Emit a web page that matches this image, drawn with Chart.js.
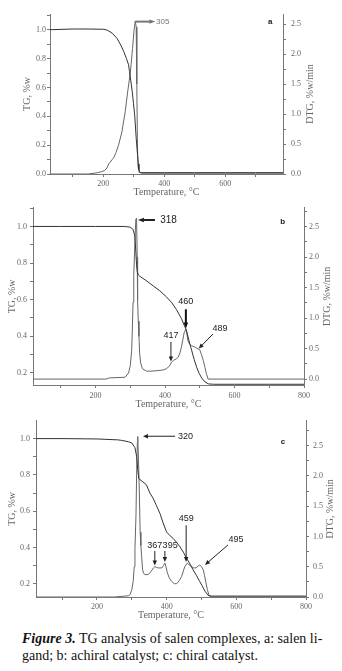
<!DOCTYPE html>
<html>
<head>
<meta charset="utf-8">
<script src="https://cdn.jsdelivr.net/npm/chart.js@4.4.1/dist/chart.umd.min.js"></script>
<style>
    html, body { margin: 0; padding: 0; background: #fff; }
    body { width: 342px; height: 671px; position: relative; overflow: hidden; }
    canvas { position: absolute; left: 0; }
    #caption {
        position: absolute; left: 22px; top: 630px;
        font: 14px "Liberation Serif", serif; line-height: 17px;
        color: #111; white-space: nowrap;
    }
    #caption b { font-style: italic; }
</style>
</head>
<body>
<canvas id="chartA" width="342" height="200" style="top:0px"></canvas>
<canvas id="chartB" width="342" height="212" style="top:200px"></canvas>
<canvas id="chartC" width="342" height="210" style="top:412px"></canvas>
<div id="caption"><b>Figure 3.</b> TG analysis of salen complexes, a: salen li-<br>gand; b: achiral catalyst; c: chiral catalyst.</div>

<script>
// ---- a: salen ligand ----
const tempA_tg = [25, 100, 150, 200, 212, 230, 245, 257, 267, 276, 283, 286, 290, 295, 299, 303, 308, 312.5, 315, 317, 320, 325, 400, 500, 600, 700, 790];
const tgA      = [1.0, 1.005, 1.005, 1.003, 0.998, 0.975, 0.94, 0.895, 0.85, 0.80, 0.757, 0.71, 0.65, 0.571, 0.49, 0.41, 0.248, 0.13, 0.07, 0.03, 0.012, 0.006, 0.006, 0.006, 0.006, 0.006, 0.006];
const tempA_dtg = [25, 150, 180, 195, 205, 212, 218, 223, 229, 235, 242, 250, 261, 272, 280, 289, 296, 301, 305, 308, 310, 312, 314, 318, 400, 500, 600, 700, 790];
const dtgA      = [0, 0, 0.02, 0.04, 0.06, 0.1, 0.17, 0.2, 0.24, 0.28, 0.36, 0.48, 0.70, 1.04, 1.37, 1.70, 2.09, 2.40, 2.55, 2.45, 1.5, 0.5, 0.12, 0.025, 0.025, 0.025, 0.025, 0.025, 0.025];

// ---- b: achiral catalyst ----
const tempB_tg = [20, 100, 200, 284, 300, 308, 313, 316, 318, 320, 323, 327, 345, 366, 385, 404, 420, 433, 447, 457, 462, 469, 477, 484, 491, 498, 506, 515, 525, 540, 600, 700, 800];
const tgB      = [1.0, 1.0, 1.0, 1.0, 0.996, 0.984, 0.948, 0.86, 0.79, 0.755, 0.735, 0.728, 0.705, 0.675, 0.648, 0.615, 0.582, 0.545, 0.497, 0.452, 0.43, 0.375, 0.32, 0.272, 0.23, 0.197, 0.17, 0.15, 0.139, 0.137, 0.137, 0.137, 0.137];
const tempB_dtg = [20, 230, 240, 285, 295, 300, 304, 306, 308, 310, 313, 316, 318, 320, 321, 323, 325, 327, 330, 335, 347, 360, 380, 395, 404, 412, 419, 425, 432, 438, 443, 447, 451, 455, 460, 463, 466, 470, 476, 484, 491, 500, 505, 510, 515, 519, 524, 600, 800];
const dtgB      = [0, 0, 0.02, 0.03, 0.1, 0.22, 0.47, 0.84, 1.26, 1.7, 2.2, 2.62, 2.64, 2.0, 1.3, 0.95, 0.7, 0.42, 0.26, 0.17, 0.13, 0.13, 0.14, 0.15, 0.17, 0.21, 0.28, 0.31, 0.33, 0.36, 0.43, 0.52, 0.64, 0.76, 0.82, 0.74, 0.63, 0.58, 0.55, 0.53, 0.51, 0.48, 0.40, 0.31, 0.19, 0.09, 0.0, 0, 0];

// ---- c: chiral catalyst ----
const tempC_tg = [25, 100, 200, 260, 271, 290, 300, 309, 314, 317, 320, 323, 330, 342, 352, 361, 371, 381, 390, 400, 410, 419, 428, 438, 448, 457, 467, 476, 486, 495, 502, 510, 519, 528, 600, 700, 800];
const tgC      = [1.0, 1.0, 0.998, 0.993, 0.99, 0.983, 0.976, 0.95, 0.90, 0.83, 0.78, 0.775, 0.765, 0.745, 0.70, 0.672, 0.63, 0.587, 0.535, 0.485, 0.465, 0.45, 0.43, 0.405, 0.375, 0.342, 0.31, 0.277, 0.245, 0.213, 0.19, 0.16, 0.137, 0.133, 0.133, 0.133, 0.133];
const tempC_dtg = [25, 250, 290, 295, 300, 304, 307, 309, 312, 314, 316, 317, 319, 321, 324, 326, 328, 331, 334, 338, 347, 355, 362, 366, 371, 376, 386, 391, 395, 398, 402, 408, 414, 422, 429, 436, 443, 448, 452, 459, 465, 472, 478, 484, 490, 495, 500, 505, 509, 513, 517, 522, 530, 600, 800];
const dtgC      = [0, 0, 0.02, 0.04, 0.12, 0.26, 0.5, 0.8, 1.35, 2.1, 2.55, 2.65, 2.3, 1.89, 1.07, 0.85, 0.69, 0.45, 0.39, 0.37, 0.37, 0.42, 0.48, 0.50, 0.49, 0.48, 0.48, 0.52, 0.56, 0.50, 0.40, 0.31, 0.26, 0.22, 0.22, 0.27, 0.34, 0.43, 0.50, 0.56, 0.53, 0.50, 0.48, 0.48, 0.51, 0.53, 0.50, 0.45, 0.35, 0.23, 0.12, 0.02, 0, 0, 0];

// peak labels: arrow from -> tip, text at (temperature, DTG value)
const notesA = [
    { text: '305', from: [305, 2.54], tip: [371, 2.54], at: [373, 2.54], align: 'left', width: 2, color: '#777', size: 8 }
];
const notesB = [
    { text: '318', from: [371, 2.61], tip: [322, 2.61], at: [386, 2.61], align: 'left', width: 2, color: '#222', size: 10 },
    { text: '460', from: [460, 1.145], tip: [460, 0.83], at: [460, 1.27], width: 2, color: '#111', size: 9 },
    { text: '417', from: [417, 0.61], tip: [417, 0.29], at: [417, 0.72], width: 1, color: '#222', size: 9 },
    { text: '489', from: [538, 0.74], tip: [497, 0.50], at: [558, 0.83], width: 1, color: '#222', size: 9 }
];
const notesC = [
    { text: '320', from: [424, 2.655], tip: [332, 2.655], at: [454, 2.655], width: 1, color: '#222', size: 9 },
    { text: '459', from: [456, 1.185], tip: [456, 0.58], at: [456, 1.29], width: 1, color: '#222', size: 9 },
    { text: '367', from: [366, 0.76], tip: [366, 0.52], at: [366, 0.85], width: 1, color: '#222', size: 9 },
    { text: '395', from: [395, 0.76], tip: [395, 0.58], at: [410, 0.85], width: 1, color: '#222', size: 9 },
    { text: '495', from: [576, 0.86], tip: [510, 0.53], at: [599, 0.95], width: 1, color: '#222', size: 9 }
];

const AXIS = '#777';
const TEXT = '#666';
const SERIF = "'Liberation Serif', 'Times New Roman', serif";
const SANS = "'Liberation Sans', Arial, sans-serif";

function toPoints(xs, ys) {
    return xs.map((x, i) => ({ x: x, y: ys[i] }));
}

function drawArrow(ctx, x1, y1, x2, y2, w, color) {
    const ang = Math.atan2(y2 - y1, x2 - x1);
    const len = 4 + w;
    ctx.strokeStyle = color;
    ctx.fillStyle = color;
    ctx.lineWidth = w;
    ctx.beginPath();
    ctx.moveTo(x1, y1);
    ctx.lineTo(x2 - Math.cos(ang) * len * 0.7, y2 - Math.sin(ang) * len * 0.7);
    ctx.stroke();
    ctx.beginPath();
    ctx.moveTo(x2, y2);
    ctx.lineTo(x2 - len * Math.cos(ang) + 2.2 * Math.sin(ang), y2 - len * Math.sin(ang) - 2.2 * Math.cos(ang));
    ctx.lineTo(x2 - len * Math.cos(ang) - 2.2 * Math.sin(ang), y2 - len * Math.sin(ang) + 2.2 * Math.cos(ang));
    ctx.closePath();
    ctx.fill();
}

// arrows, peak numbers, panel letter and the right axis title (reads upward)
function notesPlugin(notes, letter, titleOffset) {
    return {
        id: 'notes',
        afterDraw(chart) {
            const ctx = chart.ctx;
            const xs = chart.scales.x, ys = chart.scales.y2;
            const px = t => xs.getPixelForValue(t);
            const py = v => ys.getPixelForValue(v);
            ctx.save();
            notes.forEach(n => {
                drawArrow(ctx, px(n.from[0]), py(n.from[1]), px(n.tip[0]), py(n.tip[1]), n.width, n.color);
                ctx.fillStyle = n.color;
                ctx.font = n.size + 'px ' + SANS;
                ctx.textAlign = n.align || 'center';
                ctx.textBaseline = 'middle';
                ctx.fillText(n.text, px(n.at[0]), py(n.at[1]));
            });
            ctx.fillStyle = '#222';
            ctx.font = 'bold 8px ' + SANS;
            ctx.textAlign = 'center';
            ctx.fillText(letter.text, px(letter.at[0]), py(letter.at[1]));

            const area = chart.chartArea;
            ctx.translate(ys.right - titleOffset, (area.top + area.bottom) / 2);
            ctx.rotate(-Math.PI / 2);
            ctx.fillStyle = TEXT;
            ctx.font = '10px ' + SERIF;
            ctx.fillText('DTG, %w/min', 0, 0);
            ctx.restore();
        }
    };
}

function makeChart(id, cfg) {
    const ctx = document.getElementById(id).getContext('2d');
    const tickFont = { family: SERIF, size: 8 };
    const grid = { display: true, drawOnChartArea: false, drawTicks: true, tickLength: 3, color: AXIS };
    return new Chart(ctx, {
        type: 'line',
        data: {
            datasets: [
                { label: 'TG', data: toPoints(cfg.tgT, cfg.tg), yAxisID: 'y', borderColor: '#333', borderWidth: 1 },
                { label: 'DTG', data: toPoints(cfg.dtgT, cfg.dtg), yAxisID: 'y2', borderColor: '#666', borderWidth: 1 }
            ]
        },
        options: {
            responsive: false,
            animation: false,
            events: [],
            layout: { padding: { top: cfg.top, left: 0, right: 0, bottom: 0 } },
            elements: { point: { radius: 0 }, line: { tension: 0 } },
            plugins: { legend: { display: false }, tooltip: { enabled: false } },
            scales: {
                x: {
                    type: 'linear', min: cfg.xMin, max: cfg.xMax,
                    afterFit: s => { s.height = cfg.xH; },
                    border: { display: true, color: AXIS },
                    grid: grid,
                    ticks: {
                        stepSize: 100, includeBounds: false, autoSkip: false, maxRotation: 0,
                        padding: cfg.xPad, color: TEXT, font: tickFont,
                        callback: v => (v % 200 === 0 ? String(v) : '')
                    },
                    title: {
                        display: true, text: 'Temperature, \u00B0C', color: TEXT,
                        font: { family: SERIF, size: 10 }, padding: { top: 0, bottom: cfg.xTitlePad }
                    }
                },
                y: {
                    position: 'left', min: cfg.yMin, max: cfg.yMax,
                    afterFit: s => { s.width = cfg.leftW; },
                    border: { display: true, color: AXIS },
                    grid: grid,
                    ticks: {
                        stepSize: 0.1, includeBounds: false, autoSkip: false,
                        padding: cfg.leftPad, color: TEXT, font: tickFont,
                        callback: v => (Math.round(v * 10) % 2 === 0 ? v.toFixed(1) : '')
                    },
                    title: {
                        display: true, text: 'TG, %w', color: TEXT,
                        font: { family: SERIF, size: 10 }, padding: { top: cfg.leftTitlePad, bottom: 0 }
                    }
                },
                y2: {
                    position: 'right', min: cfg.y2Min, max: cfg.y2Max,
                    afterFit: s => { s.width = cfg.rightW; },
                    border: { display: true, color: AXIS },
                    grid: grid,
                    ticks: {
                        stepSize: 0.25, includeBounds: false, autoSkip: false,
                        padding: cfg.rightPad, color: TEXT, font: tickFont,
                        callback: v => (Math.round(v * 4) % 2 === 0 ? v.toFixed(1) : '')
                    }
                }
            }
        },
        plugins: [notesPlugin(cfg.notes, cfg.letter, cfg.rightTitleOff)]
    });
}

makeChart('chartA', {
    tgT: tempA_tg, tg: tgA, dtgT: tempA_dtg, dtg: dtgA,
    xMin: 25, xMax: 790, yMin: 0, yMax: 1.109, y2Min: 0, y2Max: 2.667,
    top: 14, xH: 26, leftW: 50, rightW: 59,
    xPad: 2, xTitlePad: 2, leftPad: 1, leftTitlePad: 21, rightPad: 5, rightTitleOff: 32,
    notes: notesA, letter: { text: 'a', at: [748, 2.53] }
});

makeChart('chartB', {
    tgT: tempB_tg, tg: tgB, dtgT: tempB_dtg, dtg: dtgB,
    xMin: 20, xMax: 800, yMin: 0.133, yMax: 1.102, y2Min: -0.097, y2Max: 2.81,
    top: 5, xH: 27, leftW: 33, rightW: 38,
    xPad: 3, xTitlePad: 2, leftPad: 3, leftTitlePad: 6, rightPad: 2, rightTitleOff: 15,
    notes: notesB, letter: { text: 'b', at: [739, 2.58] }
});

makeChart('chartC', {
    tgT: tempC_tg, tg: tgC, dtgT: tempC_dtg, dtg: dtgC,
    xMin: 25, xMax: 800, yMin: 0.128, yMax: 1.098, y2Min: 0, y2Max: 2.91,
    top: 7, xH: 25, leftW: 36, rightW: 36,
    xPad: 2, xTitlePad: 1, leftPad: 3, leftTitlePad: 6, rightPad: 4, rightTitleOff: 12,
    notes: notesC, letter: { text: 'c', at: [734, 2.57] }
});
</script>
</body>
</html>
